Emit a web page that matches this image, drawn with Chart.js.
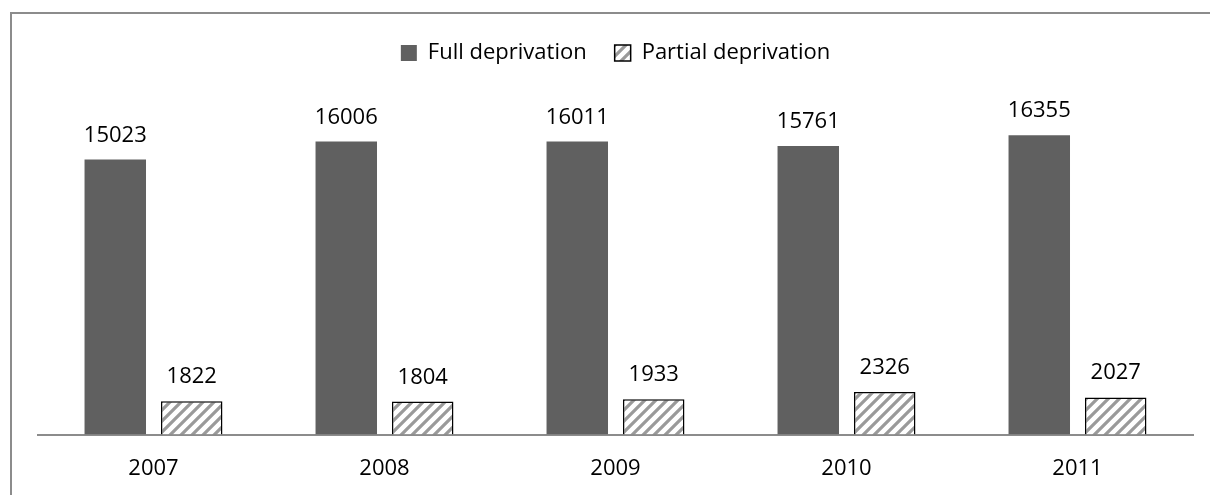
<!DOCTYPE html>
<html>
<head>
<meta charset="utf-8">
<script src="https://cdn.jsdelivr.net/npm/chart.js@4.4.1/dist/chart.umd.min.js"></script>
<style>
  html, body { margin: 0; padding: 0; background: #fff; overflow: hidden; }
  #frame { position: absolute; left: 10px; top: 12px; width: 1300px; height: 600px;
           border-left: 2px solid #8c8c8c; border-top: 2px solid #8c8c8c; }
  #wrap { position: absolute; left: 0; top: 0; width: 1210px; height: 503px; }
</style>
</head>
<body>
<div id="frame"></div>
<div id="wrap"><canvas id="chart" width="1210" height="503"></canvas></div>
<script>
// Dados
const years = ["2007", "2008", "2009", "2010", "2011"];
const fullDeprivation = [15023, 16006, 16011, 15761, 16355];
const partialDeprivation = [1822, 1804, 1933, 2326, 2027];

// Padrão tracejado (hachura diagonal)
function makeHatch() {
  const size = 11;
  const c = document.createElement("canvas");
  c.width = size; c.height = size;
  const g = c.getContext("2d");
  g.fillStyle = "#ffffff";
  g.fillRect(0, 0, size, size);
  g.strokeStyle = "#9a9a9a";
  g.lineWidth = 3.2;
  g.beginPath();
  g.moveTo(-2, size + 2); g.lineTo(size + 2, -2);
  g.moveTo(-2, 2); g.lineTo(2, -2);
  g.moveTo(size - 2, size + 2); g.lineTo(size + 2, size - 2);
  g.stroke();
  return document.createElement("canvas").getContext("2d").createPattern(c, "repeat");
}
const hatch = makeHatch();
const FONT = "Open Sans";

// Rótulos de valor acima das barras
const valueLabels = {
  id: "valueLabels",
  afterDatasetsDraw(chart) {
    const ctx = chart.ctx;
    ctx.save();
    ctx.font = "22px '" + FONT + "'";
    ctx.fillStyle = "#000";
    ctx.textAlign = "center";
    ctx.textBaseline = "alphabetic";
    chart.data.datasets.forEach((ds, i) => {
      chart.getDatasetMeta(i).data.forEach((bar, j) => {
        ctx.fillText(String(ds.data[j]), bar.x, bar.y - 18);
      });
    });
    ctx.restore();
  }
};

new Chart(document.getElementById("chart"), {
  type: "bar",
  data: {
    labels: years,
    datasets: [
      {
        label: "Full deprivation",
        data: fullDeprivation,
        backgroundColor: "#606060",
        borderWidth: 0,
        categoryPercentage: 0.662,
        barPercentage: 0.804
      },
      {
        label: "Partial deprivation",
        data: partialDeprivation,
        backgroundColor: hatch,
        borderColor: "#000",
        borderWidth: 1.5,
        categoryPercentage: 0.662,
        barPercentage: 0.804
      }
    ]
  },
  options: {
    responsive: false,
    animation: false,
    layout: { padding: { left: 38, right: 17, top: 14, bottom: 0 } },
    scales: {
      x: {
        grid: { display: false, drawTicks: false },
        border: { display: true, color: "#8c8c8c", width: 2 },
        ticks: { color: "#000", font: { family: FONT, size: 22 }, padding: 21 }
      },
      y: { display: false, min: 0, max: 19700 }
    },
    plugins: {
      legend: {
        position: "top",
        labels: {
          color: "#000",
          font: { family: FONT, size: 22 },
          boxWidth: 16,
          boxHeight: 16,
          padding: 28
        }
      },
      tooltip: { enabled: false }
    }
  },
  plugins: [valueLabels]
});
</script>
</body>
</html>
